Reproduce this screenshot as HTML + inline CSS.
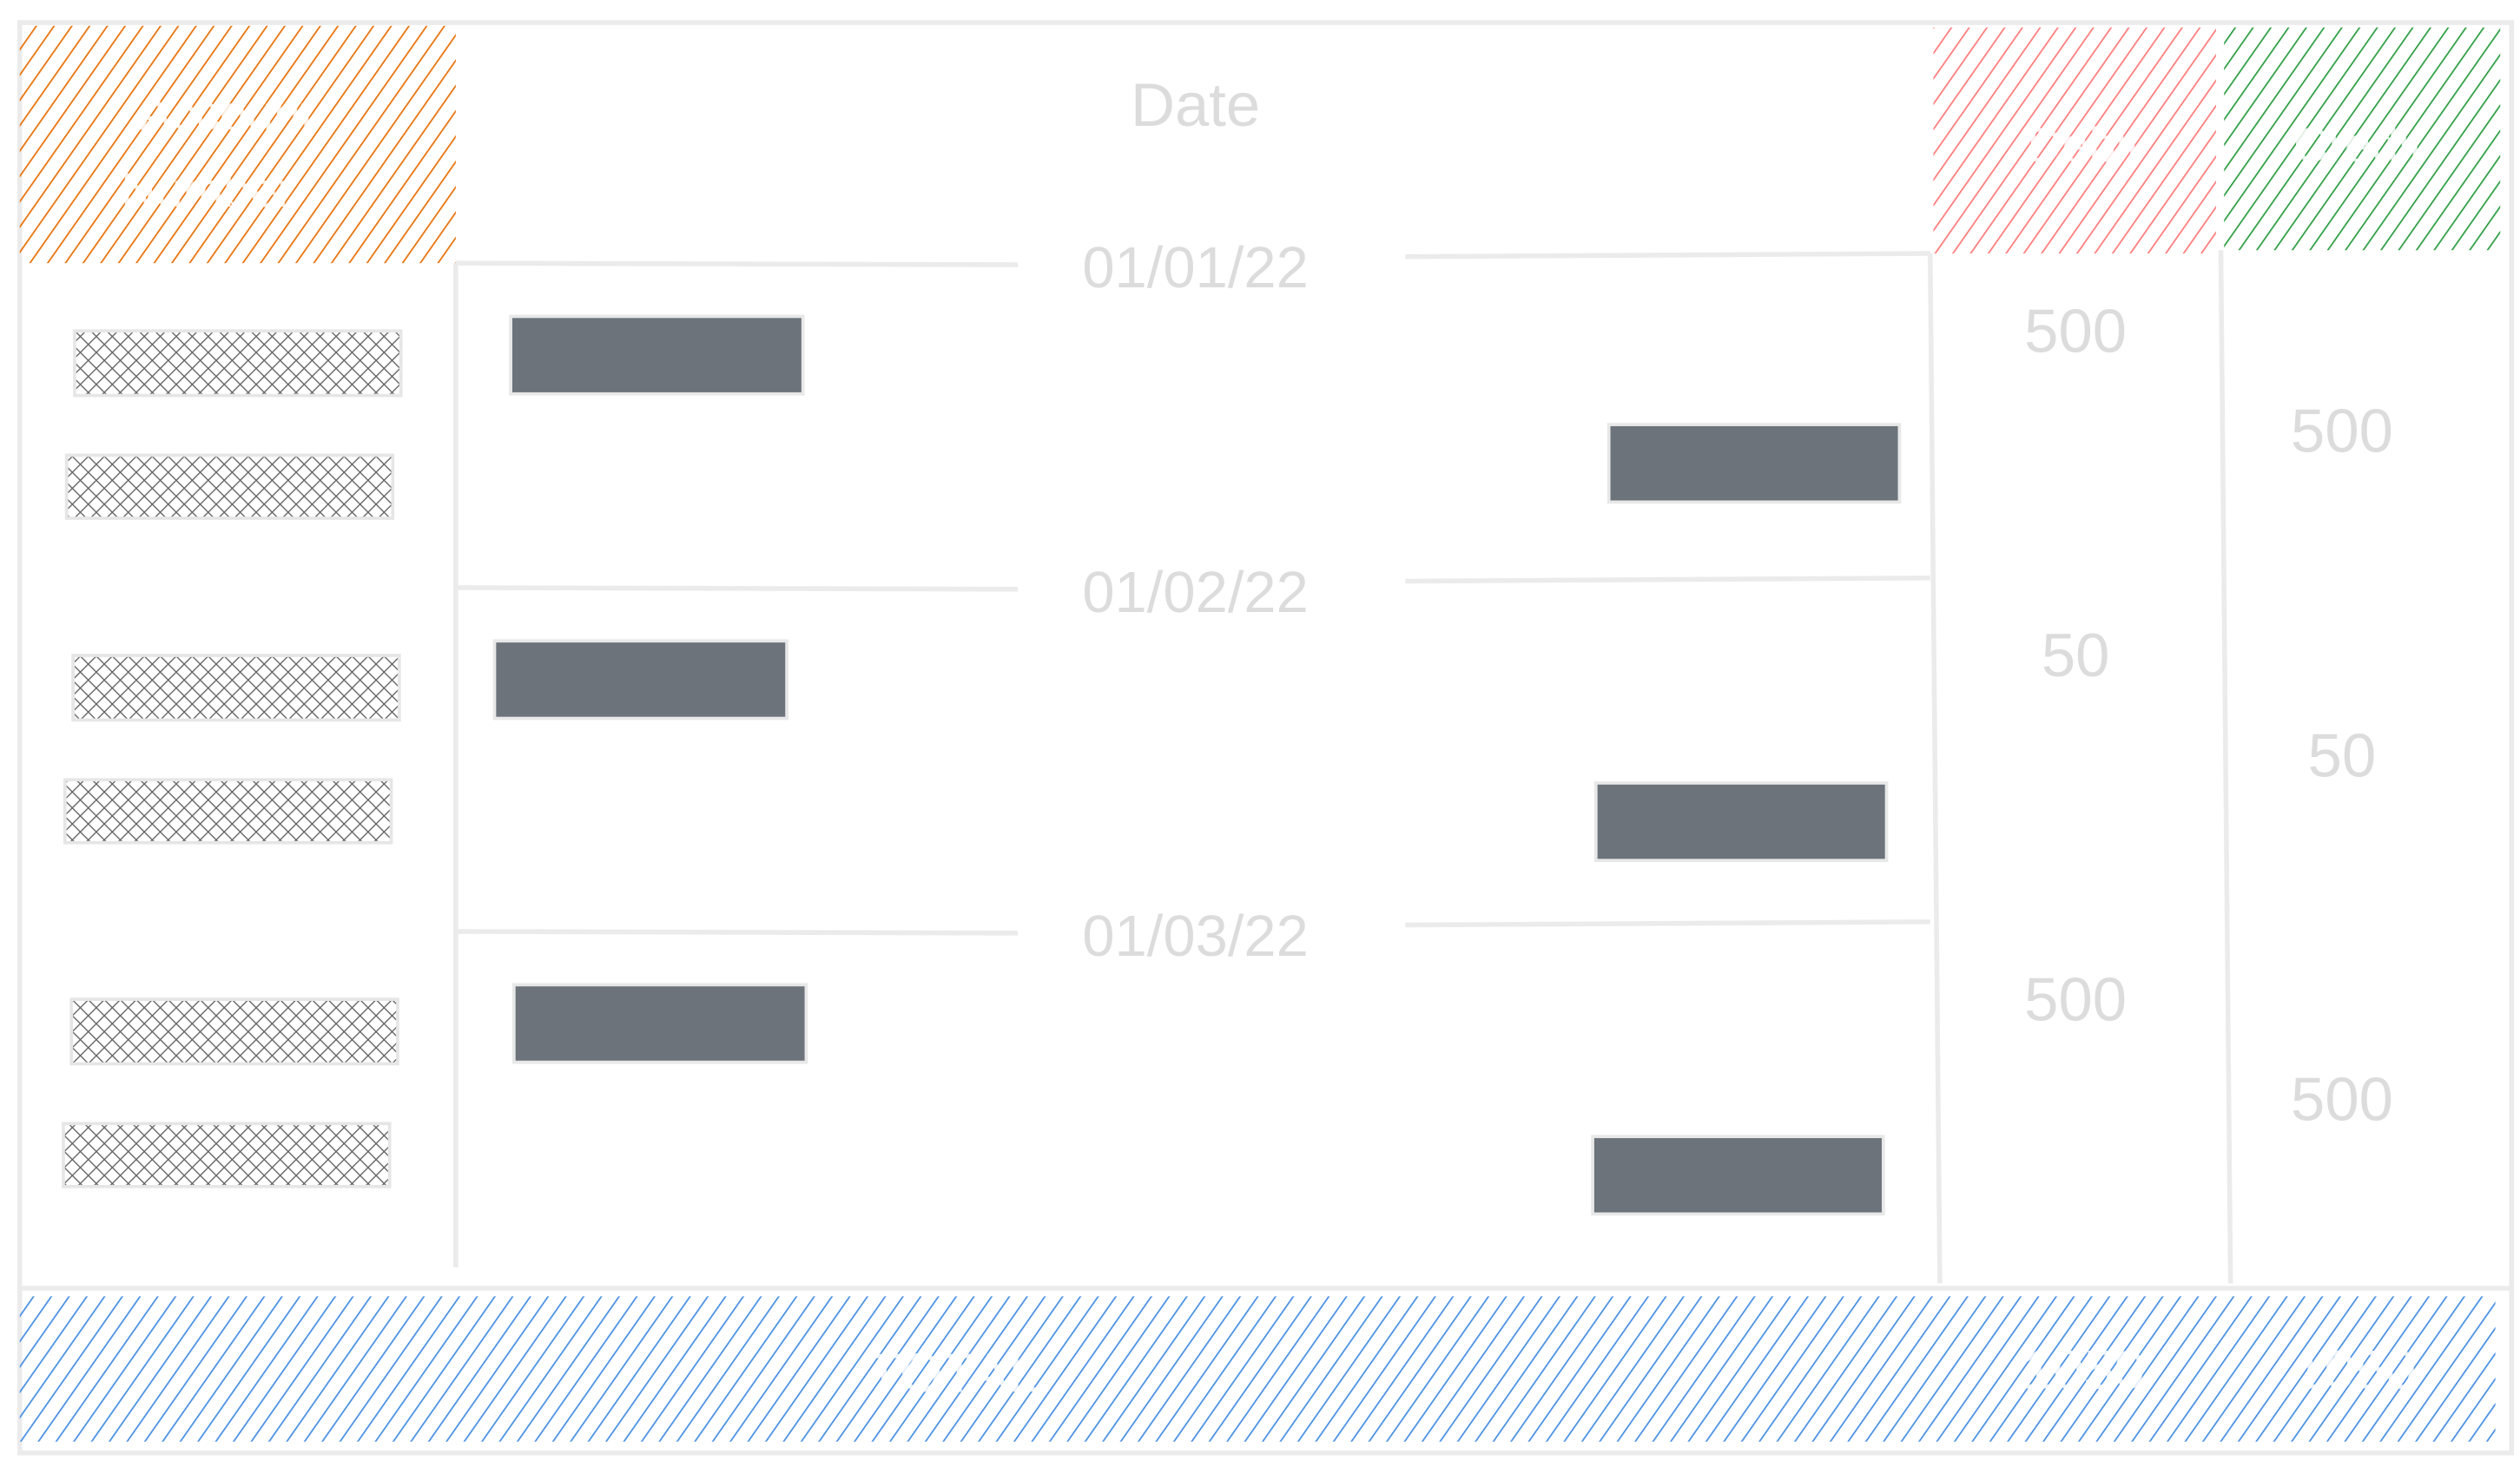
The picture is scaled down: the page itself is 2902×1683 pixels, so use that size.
<!DOCTYPE html>
<html><head><meta charset="utf-8"><style>
html,body{margin:0;padding:0;background:#fff;}
svg{display:block;}
text{font-family:"Liberation Sans",sans-serif;}
</style></head><body>
<svg id="chart" width="2902" height="1683" viewBox="0 0 1560 905" xmlns="http://www.w3.org/2000/svg">
<defs>
<pattern id="hOrange" width="9" height="9" patternUnits="userSpaceOnUse" patternTransform="rotate(35)"><line x1="0" y1="0" x2="0" y2="9" stroke="#e8720c" stroke-width="1.9"/></pattern>
<pattern id="hRed" width="9" height="9" patternUnits="userSpaceOnUse" patternTransform="rotate(35)"><line x1="0" y1="0" x2="0" y2="9" stroke="#ff7b7b" stroke-width="1.9"/></pattern>
<pattern id="hGreen" width="9" height="9" patternUnits="userSpaceOnUse" patternTransform="rotate(35)"><line x1="0" y1="0" x2="0" y2="9" stroke="#2f9e44" stroke-width="1.9"/></pattern>
<pattern id="hBlue" width="9" height="9" patternUnits="userSpaceOnUse" patternTransform="rotate(35)"><line x1="0" y1="0" x2="0" y2="9" stroke="#4a90e2" stroke-width="1.9"/></pattern>
<pattern id="hCross" width="7" height="7" patternUnits="userSpaceOnUse" patternTransform="rotate(45)"><line x1="0" y1="0" x2="0" y2="7" stroke="#666" stroke-width="1.5"/><line x1="0" y1="0" x2="7" y2="0" stroke="#666" stroke-width="1.5"/></pattern>
</defs>
<rect x="12" y="14" width="1543" height="886" fill="none" stroke="#ebebeb" stroke-width="3"/>
<rect x="12" y="16" width="270" height="147" fill="url(#hOrange)"/>
<text x="140" y="80" font-size="30" fill="#fff" text-anchor="middle" opacity="0.85">Account</text>
<text x="128" y="128" font-size="30" fill="#fff" text-anchor="middle" opacity="0.85">Number</text>
<text x="740" y="78" font-size="38" fill="#dcdcdc" text-anchor="middle">Date</text>
<rect x="1197" y="17" width="175" height="140" fill="url(#hRed)"/>
<text x="1290" y="100" font-size="30" fill="#fff" text-anchor="middle" opacity="0.85">Debit</text>
<rect x="1377" y="17" width="171" height="138" fill="url(#hGreen)"/>
<text x="1460" y="100" font-size="30" fill="#fff" text-anchor="middle" opacity="0.85">Credit</text>
<g stroke="#ebebeb" stroke-width="3" fill="none">
<line x1="282" y1="163" x2="282" y2="785"/>
<line x1="1195" y1="157" x2="1201" y2="795"/>
<line x1="1375" y1="155" x2="1381" y2="795"/>
<line x1="12" y1="798" x2="1555" y2="798"/>
</g>
<rect x="12" y="803" width="1533" height="90" fill="url(#hBlue)"/>
<text x="590" y="862" font-size="34" fill="#fff" text-anchor="middle" opacity="0.85">TOTAL</text>
<g id="rows"></g>
</svg>
<script>
const dates = ["01/01/22", "01/02/22", "01/03/22"];
const debits = [500, 50, 500];
const credits = [500, 50, 500];
const totalDebit = 1050;
const totalCredit = 1050;

const ns = "http://www.w3.org/2000/svg";
const g = document.getElementById("rows");
const layoutTops = [163, 364, 577];
const leftBarX = [316, 306, 318];
const rightBarX = [996, 988, 986];
const rightBarDy = [100, 121, 127];
function mk(tag, attrs) {
  const e = document.createElementNS(ns, tag);
  for (const k in attrs) e.setAttribute(k, attrs[k]);
  g.appendChild(e);
  return e;
}
dates.forEach((d, i) => {
  const y = layoutTops[i];
  const ln1 = mk("line", {x1: 282, y1: y, x2: 630, y2: y + 1, stroke: "#ebebeb", "stroke-width": 3});
  
  
  const ln2 = mk("line", {x1: 870, y1: y - 4, x2: 1195, y2: y - 6, stroke: "#ebebeb", "stroke-width": 3});
  
  
  const t = mk("text", {x: 740, y: y + 15, "font-size": 36, fill: "#dcdcdc", "text-anchor": "middle"});
  t.textContent = d;
  
  
  const a1 = mk("rect", {x: 46 - i * 1, y: y + 42, width: 202, height: 40, fill: "url(#hCross)", stroke: "#e6e6e6", "stroke-width": 2});
  
  
  const a2 = mk("rect", {x: 41 - i * 1, y: y + 119, width: 202, height: 39, fill: "url(#hCross)", stroke: "#e6e6e6", "stroke-width": 2});
  
  
  const b1 = mk("rect", {x: leftBarX[i], y: y + 33, width: 181, height: 48, fill: "#6c737a", stroke: "#e8e8e8", "stroke-width": 2});
  
  
  const b2 = mk("rect", {x: rightBarX[i], y: y + rightBarDy[i], width: 180, height: 48, fill: "#6c737a", stroke: "#e8e8e8", "stroke-width": 2});
  
  
  const dv = mk("text", {x: 1285, y: y + 55, "font-size": 38, fill: "#dcdcdc", "text-anchor": "middle"});
  dv.textContent = debits[i];
  
  
  const cv = mk("text", {x: 1450, y: y + 117, "font-size": 38, fill: "#dcdcdc", "text-anchor": "middle"});
  cv.textContent = credits[i];
  
  
});
const td = mk("text", {x: 1290, y: 860, "font-size": 34, fill: "#fff", "text-anchor": "middle", opacity: 0.85});
td.textContent = totalDebit;


const tc = mk("text", {x: 1458, y: 860, "font-size": 34, fill: "#fff", "text-anchor": "middle", opacity: 0.85});
tc.textContent = totalCredit;


</script>
</body></html>
